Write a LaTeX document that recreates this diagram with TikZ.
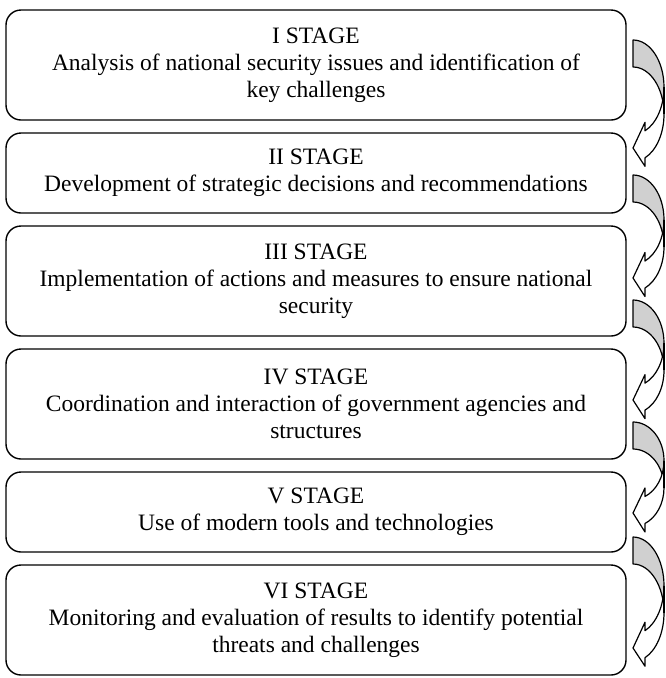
\documentclass[tikz,border=0pt]{standalone}
\usepackage{fontspec}
\setmainfont{Liberation Serif}
\definecolor{arrowgray}{HTML}{D0D0D0}
\newcommand{\stagearrow}[3]{% #1 left x, #2 top y, #3 height (image coords, y down)
  \pgfmathsetmacro{\arhR}{#3/2-17.75}
  \pgfmathsetmacro{\arthA}{acos(12/31)}
  \pgfmathsetmacro{\ardy}{\arhR*sin(\arthA)}
  \pgfmathsetmacro{\aryfive}{\arhR+\ardy}
  \pgfmathsetmacro{\aryseven}{\arhR+27+\ardy}
  \pgfmathsetmacro{\aryfour}{\aryfive-8.5}
  \pgfmathsetmacro{\aryeight}{\aryseven+8.5}
  \pgfmathsetmacro{\arysix}{#3-22}
  \begin{scope}[shift={(#1,#2)}]
    \filldraw[arrowline, fill=arrowgray] (0,0)
      arc[start angle=-90, end angle=0, x radius=31, y radius=\arhR]
      -- ++(0,27)
      arc[start angle=0, end angle=-90, x radius=31, y radius=\arhR] -- cycle;
    \fill[white] (31,\arhR)
      arc[start angle=0, end angle=\arthA, x radius=31, y radius=\arhR]
      -- (12,\aryfour) -- (0,\arysix) -- (12,\aryeight) -- (12,\aryseven)
      arc[start angle=\arthA, end angle=0, x radius=31, y radius=\arhR] -- cycle;
    \draw[arrowline] (31,\arhR)
      arc[start angle=0, end angle=\arthA, x radius=31, y radius=\arhR]
      -- (12,\aryfour) -- (0,\arysix) -- (12,\aryeight) -- (12,\aryseven)
      arc[start angle=\arthA, end angle=0, x radius=31, y radius=\arhR];
    \draw[arrowline] (31,\arhR) -- ++(0,27);
  \end{scope}
}
\begin{document}
\begin{tikzpicture}[x=1pt,y=-1pt,
  stagebox/.style={draw=black, line width=1.4pt, rounded corners=15pt,
    minimum width=620pt, align=center, inner sep=0pt,
    font=\fontsize{23.5}{27}\selectfont},
  arrowline/.style={draw=black, line width=1.2pt, line join=round}]
\useasboundingbox (0,0) rectangle (665,678);
\node[stagebox, minimum height=110pt] (s1) at (316,65)
  {I STAGE\\Analysis of national security issues and identification of\\key challenges};
\node[stagebox, minimum height=80pt] (s2) at (316,173)
  {II STAGE\\Development of strategic decisions and recommendations};
\node[stagebox, minimum height=110pt] (s3) at (316,281)
  {III STAGE\\Implementation of actions and measures to ensure national\\security};
\node[stagebox, minimum height=110pt] (s4) at (316,404)
  {IV STAGE\\Coordination and interaction of government agencies and\\structures};
\node[stagebox, minimum height=80pt] (s5) at (316,512)
  {V STAGE\\Use of modern tools and technologies};
\node[stagebox, minimum height=110pt] (s6) at (316,620)
  {VI STAGE\\Monitoring and evaluation of results to identify potential\\threats and challenges};
\stagearrow{633}{40}{130}
\stagearrow{633}{175}{125}
\stagearrow{633}{300}{122}
\stagearrow{633}{422}{113}
\stagearrow{633}{537}{133}
\end{tikzpicture}
\end{document}
